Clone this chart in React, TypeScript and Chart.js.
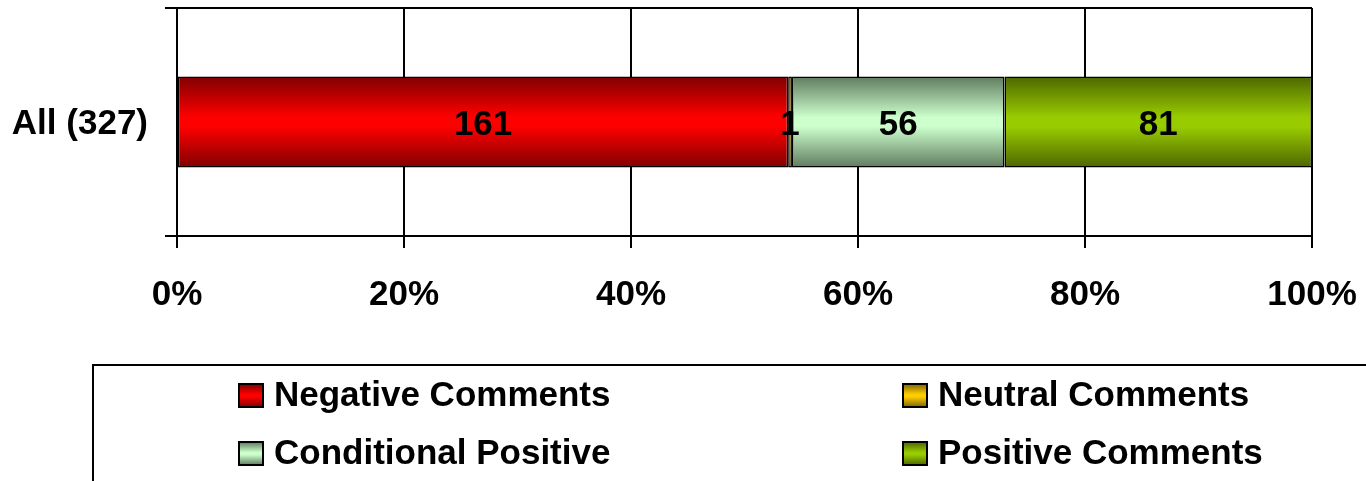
import React, { useEffect, useRef } from 'react';
import { Chart, registerables } from 'chart.js';

Chart.register(...registerables);

const categories = ['All (327)'];
const seriesNames = ['Negative Comments', 'Neutral Comments', 'Conditional Positive', 'Positive Comments'];
const negative = [161];
const neutral = [1];
const conditional = [56];
const positive = [81];
const xTickValues = [0, 20, 40, 60, 80, 100];

const brightColors = ['#FF0000', '#FFCC00', '#CCFFCC', '#99CC00'];
const darkColors = ['#800000', '#806600', '#5F7A5F', '#4D6600'];

const FONT = '"Liberation Sans", Arial, Helvetica, sans-serif';

const seriesCounts = [negative, neutral, conditional, positive];
const totals = categories.map((_, i) => seriesCounts.reduce((s, arr) => s + arr[i], 0));

function makeGradient(ctx: CanvasRenderingContext2D, top: number, bottom: number, i: number) {
  const g = ctx.createLinearGradient(0, top, 0, bottom);
  g.addColorStop(0, darkColors[i]);
  g.addColorStop(0.45, brightColors[i]);
  g.addColorStop(0.55, brightColors[i]);
  g.addColorStop(1, darkColors[i]);
  return g;
}

const dataLabelPlugin = {
  id: 'dataLabels',
  afterDatasetsDraw(chart: any) {
    const ctx = chart.ctx;
    ctx.save();
    ctx.font = `bold 35px ${FONT}`;
    ctx.fillStyle = '#000';
    ctx.textAlign = 'center';
    ctx.textBaseline = 'middle';
    chart.data.datasets.forEach((ds: any, di: number) => {
      const meta = chart.getDatasetMeta(di);
      meta.data.forEach((el: any, idx: number) => {
        const p = el.getCenterPoint();
        ctx.fillText(String(ds.counts[idx]), p.x, p.y + 3);
      });
    });
    ctx.restore();
  },
};

const legendPlugin = {
  id: 'boxLegend',
  afterDraw(chart: any) {
    const ctx = chart.ctx;
    ctx.save();
    ctx.strokeStyle = '#000';
    ctx.lineWidth = 2;
    ctx.strokeRect(93, 365, 1400, 200);
    const cols = [239, 903];
    const rows = [395.5, 453.5];
    ctx.font = `bold 35px ${FONT}`;
    ctx.textBaseline = 'middle';
    ctx.textAlign = 'left';
    chart.data.datasets.forEach((ds: any, i: number) => {
      const col = i % 2;
      const row = Math.floor(i / 2);
      const bx = cols[col];
      const by = rows[row] - 11.5;
      ctx.fillStyle = makeGradient(ctx, by, by + 23, i);
      ctx.fillRect(bx, by, 24, 23);
      ctx.lineWidth = 2;
      ctx.strokeStyle = '#000';
      ctx.strokeRect(bx, by, 24, 23);
      ctx.fillStyle = '#000';
      ctx.fillText(ds.label, bx + 35, rows[row] + 1);
    });
    ctx.restore();
  },
};

export default function App() {
  const ref = useRef<HTMLCanvasElement | null>(null);

  useEffect(() => {
    document.body.style.margin = '0';
    const canvas = ref.current;
    if (!canvas) return;

    const datasets = seriesCounts.map((arr, i) => ({
      label: seriesNames[i],
      counts: arr,
      data: arr.map((v, k) => (v / totals[k]) * 100),
      backgroundColor: (context: any) => {
        const chart = context.chart;
        const ys = chart.scales && chart.scales.y;
        if (!chart.chartArea || !ys) return brightColors[i];
        const idx = context.dataIndex ?? 0;
        const center = ys.getPixelForValue(idx);
        const band = ys.height / categories.length;
        const half = (band * 0.4) / 2;
        return makeGradient(chart.ctx, center - half, center + half, i);
      },
      borderColor: '#000',
      borderWidth: 1.5,
      borderSkipped: false,
      barPercentage: 0.4,
      categoryPercentage: 1,
    }));

    const chart = new Chart(canvas, {
      type: 'bar',
      data: { labels: categories, datasets: datasets as any },
      plugins: [dataLabelPlugin, legendPlugin],
      options: {
        indexAxis: 'y',
        responsive: false,
        animation: false,
        layout: { padding: { left: 0, right: 54, top: 8, bottom: 0 } },
        plugins: {
          legend: { display: false },
          tooltip: { enabled: false },
        },
        scales: {
          x: {
            type: 'linear',
            stacked: true,
            min: 0,
            max: 100,
            afterBuildTicks: (scale: any) => {
              scale.ticks = xTickValues.map((v) => ({ value: v }));
            },
            afterFit: (scale: any) => {
              scale.height = 245;
              scale.paddingLeft = 0;
              scale.paddingRight = 0;
            },
            ticks: {
              callback: (v: any) => `${v}%`,
              font: { family: FONT, size: 35, weight: 'bold' },
              color: '#000',
              padding: 26,
              maxRotation: 0,
              autoSkip: false,
            },
            grid: { color: '#000', lineWidth: 2, tickLength: 12 },
            border: { color: '#000', width: 2 },
          },
          y: {
            type: 'category',
            stacked: true,
            offset: true,
            afterFit: (scale: any) => {
              scale.width = 177;
              scale.paddingTop = 0;
              scale.paddingBottom = 0;
            },
            ticks: {
              font: { family: FONT, size: 35, weight: 'bold' },
              color: '#000',
              padding: 17,
              labelOffset: 2,
            },
            grid: { color: '#000', lineWidth: 2, tickLength: 12, offset: true },
            border: { color: '#000', width: 2 },
          },
        },
      } as any,
    });

    return () => chart.destroy();
  }, []);

  return (
    <div style={{ width: 1366, height: 481, position: 'relative', background: '#fff' }}>
      <canvas ref={ref} width={1366} height={481} style={{ display: 'block' }} />
    </div>
  );
}
